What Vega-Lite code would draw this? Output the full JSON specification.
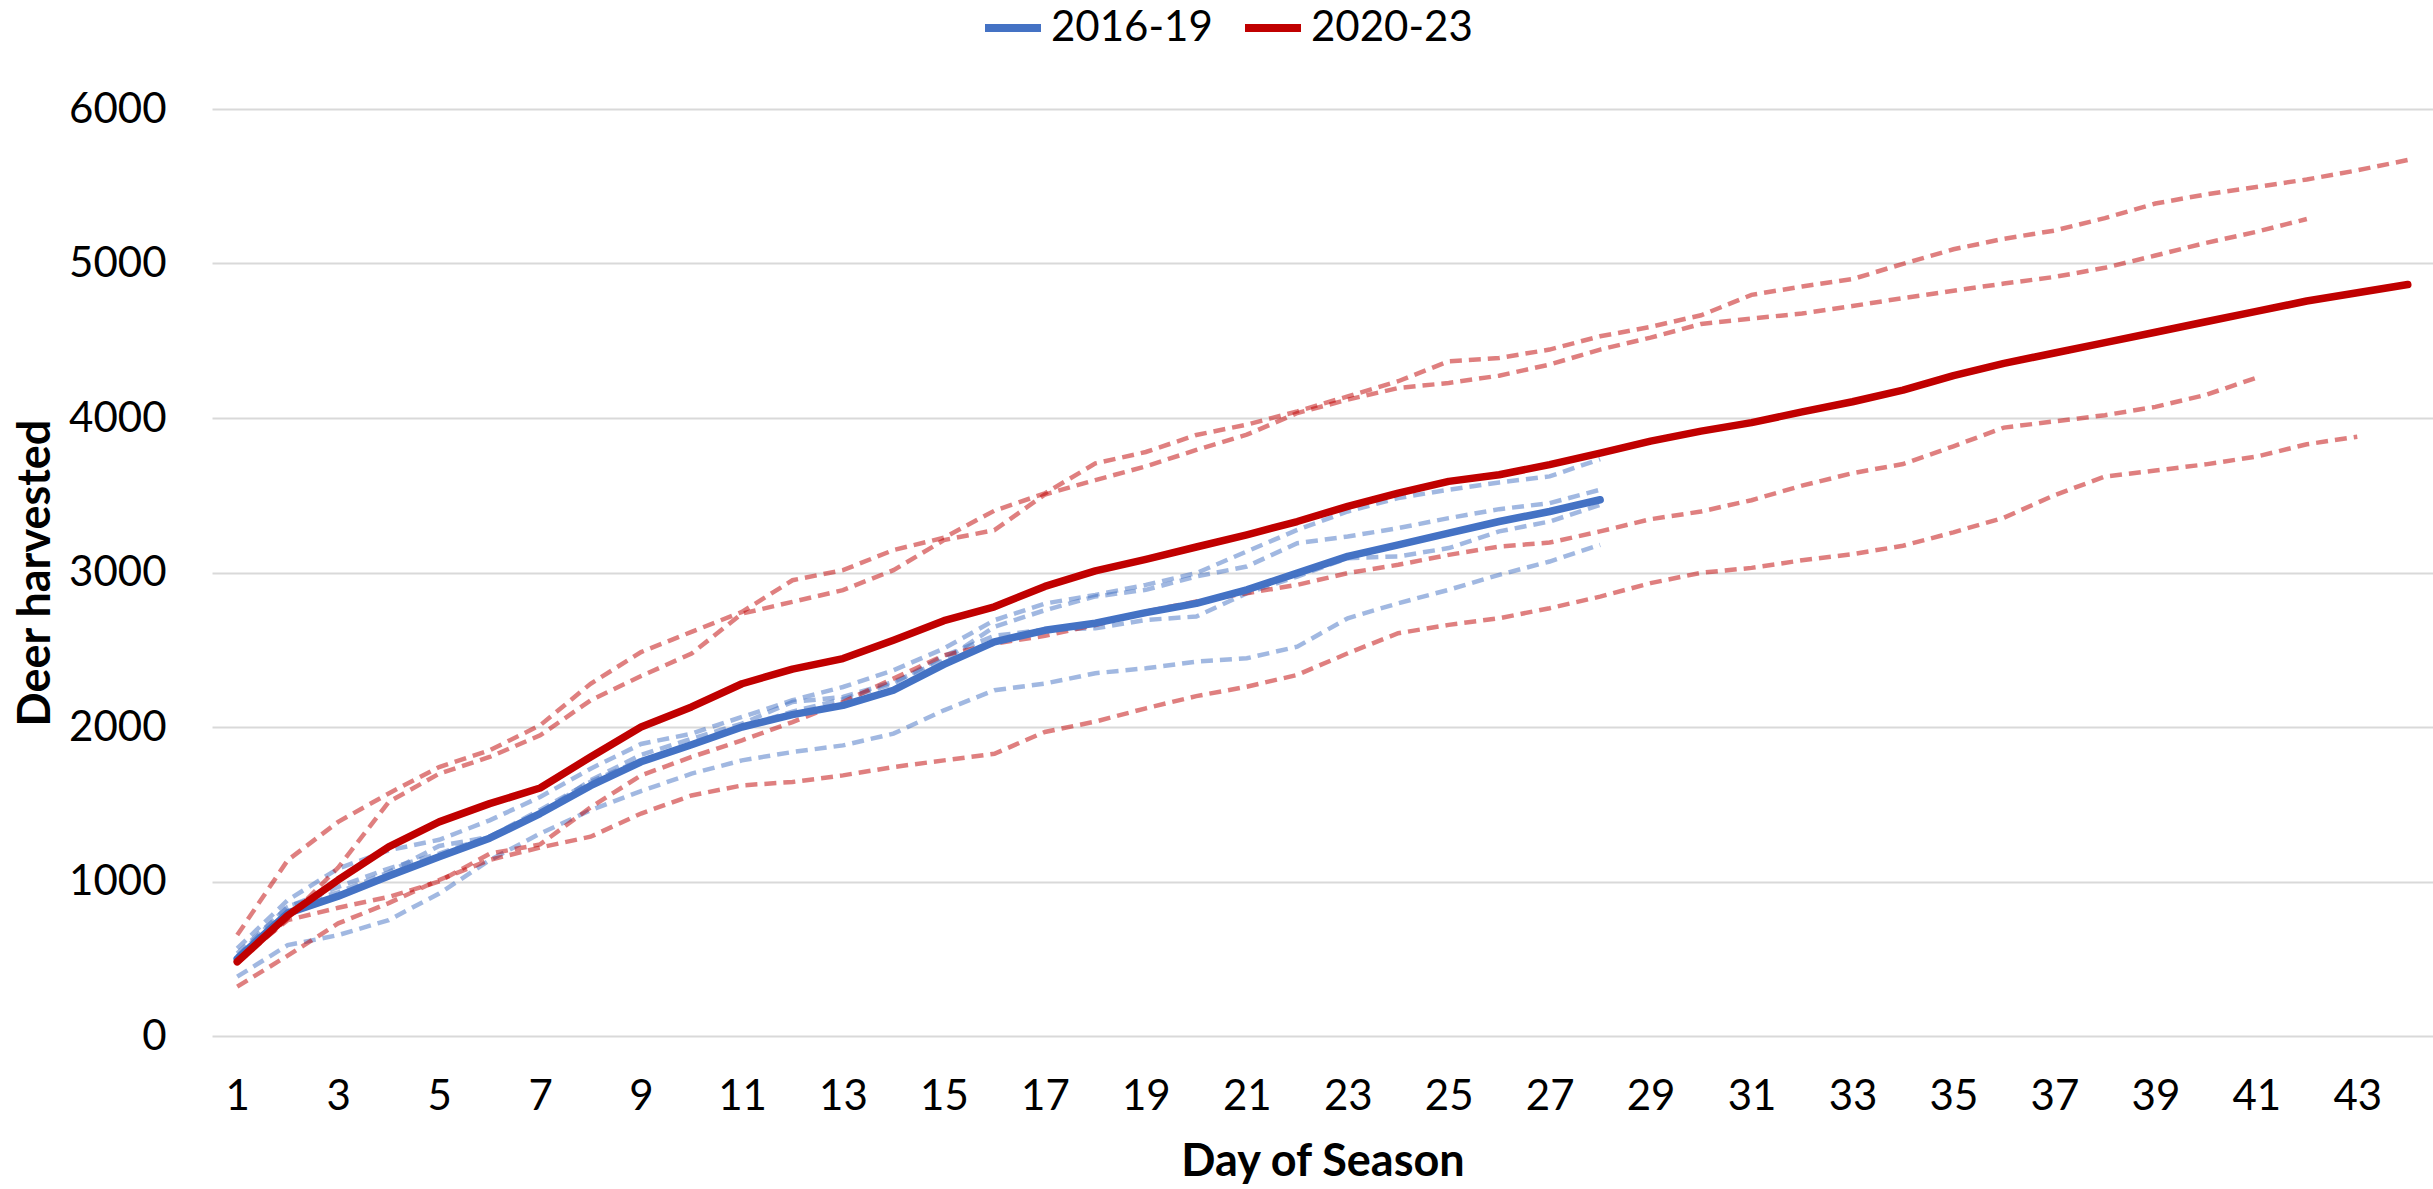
{
"$schema":"https://vega.github.io/schema/vega-lite/v6.json",
"width":2221,"height":927,
"autosize":{"type":"none"},
"padding":{"left":212,"top":109,"right":0,"bottom":153},
"background":"white",
"config":{"view":{"stroke":null},"font":"Lato"},
"datasets":{"d":[
{"day":1,"year":"2016","group":"2016-19","deer":567},{"day":2,"year":"2016","group":"2016-19","deer":879},{"day":3,"year":"2016","group":"2016-19","deer":1084},{"day":4,"year":"2016","group":"2016-19","deer":1202},{"day":5,"year":"2016","group":"2016-19","deer":1270},{"day":6,"year":"2016","group":"2016-19","deer":1396},{"day":7,"year":"2016","group":"2016-19","deer":1547},{"day":8,"year":"2016","group":"2016-19","deer":1730},{"day":9,"year":"2016","group":"2016-19","deer":1890},{"day":10,"year":"2016","group":"2016-19","deer":1957},{"day":11,"year":"2016","group":"2016-19","deer":2065},{"day":12,"year":"2016","group":"2016-19","deer":2173},{"day":13,"year":"2016","group":"2016-19","deer":2259},{"day":14,"year":"2016","group":"2016-19","deer":2367},{"day":15,"year":"2016","group":"2016-19","deer":2508},{"day":16,"year":"2016","group":"2016-19","deer":2691},{"day":17,"year":"2016","group":"2016-19","deer":2799},{"day":18,"year":"2016","group":"2016-19","deer":2855},{"day":19,"year":"2016","group":"2016-19","deer":2920},{"day":20,"year":"2016","group":"2016-19","deer":2996},{"day":21,"year":"2016","group":"2016-19","deer":3136},{"day":22,"year":"2016","group":"2016-19","deer":3276},{"day":23,"year":"2016","group":"2016-19","deer":3395},{"day":24,"year":"2016","group":"2016-19","deer":3482},{"day":25,"year":"2016","group":"2016-19","deer":3536},{"day":26,"year":"2016","group":"2016-19","deer":3583},{"day":27,"year":"2016","group":"2016-19","deer":3622},{"day":28,"year":"2016","group":"2016-19","deer":3734},
{"day":1,"year":"2017","group":"2016-19","deer":534},{"day":2,"year":"2017","group":"2016-19","deer":836},{"day":3,"year":"2017","group":"2016-19","deer":965},{"day":4,"year":"2017","group":"2016-19","deer":1084},{"day":5,"year":"2017","group":"2016-19","deer":1181},{"day":6,"year":"2017","group":"2016-19","deer":1289},{"day":7,"year":"2017","group":"2016-19","deer":1440},{"day":8,"year":"2017","group":"2016-19","deer":1655},{"day":9,"year":"2017","group":"2016-19","deer":1820},{"day":10,"year":"2017","group":"2016-19","deer":1924},{"day":11,"year":"2017","group":"2016-19","deer":2022},{"day":12,"year":"2017","group":"2016-19","deer":2162},{"day":13,"year":"2017","group":"2016-19","deer":2194},{"day":14,"year":"2017","group":"2016-19","deer":2292},{"day":15,"year":"2017","group":"2016-19","deer":2432},{"day":16,"year":"2017","group":"2016-19","deer":2648},{"day":17,"year":"2017","group":"2016-19","deer":2756},{"day":18,"year":"2017","group":"2016-19","deer":2845},{"day":19,"year":"2017","group":"2016-19","deer":2888},{"day":20,"year":"2017","group":"2016-19","deer":2974},{"day":21,"year":"2017","group":"2016-19","deer":3039},{"day":22,"year":"2017","group":"2016-19","deer":3190},{"day":23,"year":"2017","group":"2016-19","deer":3233},{"day":24,"year":"2017","group":"2016-19","deer":3287},{"day":25,"year":"2017","group":"2016-19","deer":3352},{"day":26,"year":"2017","group":"2016-19","deer":3410},{"day":27,"year":"2017","group":"2016-19","deer":3449},{"day":28,"year":"2017","group":"2016-19","deer":3536},
{"day":1,"year":"2018","group":"2016-19","deer":515},{"day":2,"year":"2018","group":"2016-19","deer":840},{"day":3,"year":"2018","group":"2016-19","deer":930},{"day":4,"year":"2018","group":"2016-19","deer":1060},{"day":5,"year":"2018","group":"2016-19","deer":1230},{"day":6,"year":"2018","group":"2016-19","deer":1289},{"day":7,"year":"2018","group":"2016-19","deer":1463},{"day":8,"year":"2018","group":"2016-19","deer":1646},{"day":9,"year":"2018","group":"2016-19","deer":1785},{"day":10,"year":"2018","group":"2016-19","deer":1890},{"day":11,"year":"2018","group":"2016-19","deer":2000},{"day":12,"year":"2018","group":"2016-19","deer":2100},{"day":13,"year":"2018","group":"2016-19","deer":2180},{"day":14,"year":"2018","group":"2016-19","deer":2280},{"day":15,"year":"2018","group":"2016-19","deer":2460},{"day":16,"year":"2018","group":"2016-19","deer":2590},{"day":17,"year":"2018","group":"2016-19","deer":2630},{"day":18,"year":"2018","group":"2016-19","deer":2639},{"day":19,"year":"2018","group":"2016-19","deer":2693},{"day":20,"year":"2018","group":"2016-19","deer":2715},{"day":21,"year":"2018","group":"2016-19","deer":2866},{"day":22,"year":"2018","group":"2016-19","deer":2974},{"day":23,"year":"2018","group":"2016-19","deer":3093},{"day":24,"year":"2018","group":"2016-19","deer":3104},{"day":25,"year":"2018","group":"2016-19","deer":3158},{"day":26,"year":"2018","group":"2016-19","deer":3266},{"day":27,"year":"2018","group":"2016-19","deer":3330},{"day":28,"year":"2018","group":"2016-19","deer":3438},
{"day":1,"year":"2019","group":"2016-19","deer":384},{"day":2,"year":"2019","group":"2016-19","deer":588},{"day":3,"year":"2019","group":"2016-19","deer":653},{"day":4,"year":"2019","group":"2016-19","deer":750},{"day":5,"year":"2019","group":"2016-19","deer":922},{"day":6,"year":"2019","group":"2016-19","deer":1138},{"day":7,"year":"2019","group":"2016-19","deer":1310},{"day":8,"year":"2019","group":"2016-19","deer":1461},{"day":9,"year":"2019","group":"2016-19","deer":1585},{"day":10,"year":"2019","group":"2016-19","deer":1698},{"day":11,"year":"2019","group":"2016-19","deer":1784},{"day":12,"year":"2019","group":"2016-19","deer":1838},{"day":13,"year":"2019","group":"2016-19","deer":1881},{"day":14,"year":"2019","group":"2016-19","deer":1957},{"day":15,"year":"2019","group":"2016-19","deer":2108},{"day":16,"year":"2019","group":"2016-19","deer":2238},{"day":17,"year":"2019","group":"2016-19","deer":2281},{"day":18,"year":"2019","group":"2016-19","deer":2348},{"day":19,"year":"2019","group":"2016-19","deer":2380},{"day":20,"year":"2019","group":"2016-19","deer":2423},{"day":21,"year":"2019","group":"2016-19","deer":2445},{"day":22,"year":"2019","group":"2016-19","deer":2520},{"day":23,"year":"2019","group":"2016-19","deer":2704},{"day":24,"year":"2019","group":"2016-19","deer":2801},{"day":25,"year":"2019","group":"2016-19","deer":2888},{"day":26,"year":"2019","group":"2016-19","deer":2985},{"day":27,"year":"2019","group":"2016-19","deer":3071},{"day":28,"year":"2019","group":"2016-19","deer":3179},
{"day":1,"year":"2020","group":"2020-23","deer":653},{"day":2,"year":"2020","group":"2020-23","deer":1138},{"day":3,"year":"2020","group":"2020-23","deer":1386},{"day":4,"year":"2020","group":"2020-23","deer":1570},{"day":5,"year":"2020","group":"2020-23","deer":1741},{"day":6,"year":"2020","group":"2020-23","deer":1849},{"day":7,"year":"2020","group":"2020-23","deer":2011},{"day":8,"year":"2020","group":"2020-23","deer":2280},{"day":9,"year":"2020","group":"2020-23","deer":2485},{"day":10,"year":"2020","group":"2020-23","deer":2616},{"day":11,"year":"2020","group":"2020-23","deer":2745},{"day":12,"year":"2020","group":"2020-23","deer":2950},{"day":13,"year":"2020","group":"2020-23","deer":3015},{"day":14,"year":"2020","group":"2020-23","deer":3145},{"day":15,"year":"2020","group":"2020-23","deer":3225},{"day":16,"year":"2020","group":"2020-23","deer":3400},{"day":17,"year":"2020","group":"2020-23","deer":3512},{"day":18,"year":"2020","group":"2020-23","deer":3706},{"day":19,"year":"2020","group":"2020-23","deer":3780},{"day":20,"year":"2020","group":"2020-23","deer":3890},{"day":21,"year":"2020","group":"2020-23","deer":3957},{"day":22,"year":"2020","group":"2020-23","deer":4043},{"day":23,"year":"2020","group":"2020-23","deer":4140},{"day":24,"year":"2020","group":"2020-23","deer":4238},{"day":25,"year":"2020","group":"2020-23","deer":4367},{"day":26,"year":"2020","group":"2020-23","deer":4389},{"day":27,"year":"2020","group":"2020-23","deer":4443},{"day":28,"year":"2020","group":"2020-23","deer":4529},{"day":29,"year":"2020","group":"2020-23","deer":4590},{"day":30,"year":"2020","group":"2020-23","deer":4665},{"day":31,"year":"2020","group":"2020-23","deer":4797},{"day":32,"year":"2020","group":"2020-23","deer":4851},{"day":33,"year":"2020","group":"2020-23","deer":4899},{"day":34,"year":"2020","group":"2020-23","deer":4998},{"day":35,"year":"2020","group":"2020-23","deer":5092},{"day":36,"year":"2020","group":"2020-23","deer":5160},{"day":37,"year":"2020","group":"2020-23","deer":5213},{"day":38,"year":"2020","group":"2020-23","deer":5294},{"day":39,"year":"2020","group":"2020-23","deer":5388},{"day":40,"year":"2020","group":"2020-23","deer":5447},{"day":41,"year":"2020","group":"2020-23","deer":5495},{"day":42,"year":"2020","group":"2020-23","deer":5544},{"day":43,"year":"2020","group":"2020-23","deer":5603},{"day":44,"year":"2020","group":"2020-23","deer":5670},
{"day":1,"year":"2021","group":"2020-23","deer":470},{"day":2,"year":"2021","group":"2020-23","deer":760},{"day":3,"year":"2021","group":"2020-23","deer":1090},{"day":4,"year":"2021","group":"2020-23","deer":1515},{"day":5,"year":"2021","group":"2020-23","deer":1698},{"day":6,"year":"2021","group":"2020-23","deer":1806},{"day":7,"year":"2021","group":"2020-23","deer":1946},{"day":8,"year":"2021","group":"2020-23","deer":2172},{"day":9,"year":"2021","group":"2020-23","deer":2330},{"day":10,"year":"2021","group":"2020-23","deer":2475},{"day":11,"year":"2021","group":"2020-23","deer":2734},{"day":12,"year":"2021","group":"2020-23","deer":2810},{"day":13,"year":"2021","group":"2020-23","deer":2886},{"day":14,"year":"2021","group":"2020-23","deer":3015},{"day":15,"year":"2021","group":"2020-23","deer":3210},{"day":16,"year":"2021","group":"2020-23","deer":3274},{"day":17,"year":"2021","group":"2020-23","deer":3505},{"day":18,"year":"2021","group":"2020-23","deer":3598},{"day":19,"year":"2021","group":"2020-23","deer":3687},{"day":20,"year":"2021","group":"2020-23","deer":3793},{"day":21,"year":"2021","group":"2020-23","deer":3892},{"day":22,"year":"2021","group":"2020-23","deer":4032},{"day":23,"year":"2021","group":"2020-23","deer":4119},{"day":24,"year":"2021","group":"2020-23","deer":4194},{"day":25,"year":"2021","group":"2020-23","deer":4227},{"day":26,"year":"2021","group":"2020-23","deer":4274},{"day":27,"year":"2021","group":"2020-23","deer":4346},{"day":28,"year":"2021","group":"2020-23","deer":4443},{"day":29,"year":"2021","group":"2020-23","deer":4520},{"day":30,"year":"2021","group":"2020-23","deer":4609},{"day":31,"year":"2021","group":"2020-23","deer":4644},{"day":32,"year":"2021","group":"2020-23","deer":4676},{"day":33,"year":"2021","group":"2020-23","deer":4725},{"day":34,"year":"2021","group":"2020-23","deer":4776},{"day":35,"year":"2021","group":"2020-23","deer":4824},{"day":36,"year":"2021","group":"2020-23","deer":4870},{"day":37,"year":"2021","group":"2020-23","deer":4913},{"day":38,"year":"2021","group":"2020-23","deer":4972},{"day":39,"year":"2021","group":"2020-23","deer":5052},{"day":40,"year":"2021","group":"2020-23","deer":5133},{"day":41,"year":"2021","group":"2020-23","deer":5205},{"day":42,"year":"2021","group":"2020-23","deer":5288},
{"day":1,"year":"2022","group":"2020-23","deer":490},{"day":2,"year":"2022","group":"2020-23","deer":750},{"day":3,"year":"2022","group":"2020-23","deer":830},{"day":4,"year":"2022","group":"2020-23","deer":900},{"day":5,"year":"2022","group":"2020-23","deer":1000},{"day":6,"year":"2022","group":"2020-23","deer":1180},{"day":7,"year":"2022","group":"2020-23","deer":1240},{"day":8,"year":"2022","group":"2020-23","deer":1480},{"day":9,"year":"2022","group":"2020-23","deer":1687},{"day":10,"year":"2022","group":"2020-23","deer":1806},{"day":11,"year":"2022","group":"2020-23","deer":1914},{"day":12,"year":"2022","group":"2020-23","deer":2032},{"day":13,"year":"2022","group":"2020-23","deer":2162},{"day":14,"year":"2022","group":"2020-23","deer":2313},{"day":15,"year":"2022","group":"2020-23","deer":2464},{"day":16,"year":"2022","group":"2020-23","deer":2540},{"day":17,"year":"2022","group":"2020-23","deer":2590},{"day":18,"year":"2022","group":"2020-23","deer":2660},{"day":19,"year":"2022","group":"2020-23","deer":2747},{"day":20,"year":"2022","group":"2020-23","deer":2812},{"day":21,"year":"2022","group":"2020-23","deer":2866},{"day":22,"year":"2022","group":"2020-23","deer":2920},{"day":23,"year":"2022","group":"2020-23","deer":2996},{"day":24,"year":"2022","group":"2020-23","deer":3050},{"day":25,"year":"2022","group":"2020-23","deer":3114},{"day":26,"year":"2022","group":"2020-23","deer":3168},{"day":27,"year":"2022","group":"2020-23","deer":3194},{"day":28,"year":"2022","group":"2020-23","deer":3266},{"day":29,"year":"2022","group":"2020-23","deer":3345},{"day":30,"year":"2022","group":"2020-23","deer":3395},{"day":31,"year":"2022","group":"2020-23","deer":3468},{"day":32,"year":"2022","group":"2020-23","deer":3562},{"day":33,"year":"2022","group":"2020-23","deer":3643},{"day":34,"year":"2022","group":"2020-23","deer":3702},{"day":35,"year":"2022","group":"2020-23","deer":3817},{"day":36,"year":"2022","group":"2020-23","deer":3938},{"day":37,"year":"2022","group":"2020-23","deer":3978},{"day":38,"year":"2022","group":"2020-23","deer":4018},{"day":39,"year":"2022","group":"2020-23","deer":4072},{"day":40,"year":"2022","group":"2020-23","deer":4150},{"day":41,"year":"2022","group":"2020-23","deer":4260},
{"day":1,"year":"2023","group":"2020-23","deer":320},{"day":2,"year":"2023","group":"2020-23","deer":520},{"day":3,"year":"2023","group":"2020-23","deer":729},{"day":4,"year":"2023","group":"2020-23","deer":860},{"day":5,"year":"2023","group":"2020-23","deer":1010},{"day":6,"year":"2023","group":"2020-23","deer":1140},{"day":7,"year":"2023","group":"2020-23","deer":1220},{"day":8,"year":"2023","group":"2020-23","deer":1290},{"day":9,"year":"2023","group":"2020-23","deer":1440},{"day":10,"year":"2023","group":"2020-23","deer":1557},{"day":11,"year":"2023","group":"2020-23","deer":1622},{"day":12,"year":"2023","group":"2020-23","deer":1644},{"day":13,"year":"2023","group":"2020-23","deer":1687},{"day":14,"year":"2023","group":"2020-23","deer":1741},{"day":15,"year":"2023","group":"2020-23","deer":1784},{"day":16,"year":"2023","group":"2020-23","deer":1827},{"day":17,"year":"2023","group":"2020-23","deer":1968},{"day":18,"year":"2023","group":"2020-23","deer":2035},{"day":19,"year":"2023","group":"2020-23","deer":2121},{"day":20,"year":"2023","group":"2020-23","deer":2200},{"day":21,"year":"2023","group":"2020-23","deer":2261},{"day":22,"year":"2023","group":"2020-23","deer":2337},{"day":23,"year":"2023","group":"2020-23","deer":2477},{"day":24,"year":"2023","group":"2020-23","deer":2607},{"day":25,"year":"2023","group":"2020-23","deer":2661},{"day":26,"year":"2023","group":"2020-23","deer":2704},{"day":27,"year":"2023","group":"2020-23","deer":2769},{"day":28,"year":"2023","group":"2020-23","deer":2844},{"day":29,"year":"2023","group":"2020-23","deer":2931},{"day":30,"year":"2023","group":"2020-23","deer":2998},{"day":31,"year":"2023","group":"2020-23","deer":3030},{"day":32,"year":"2023","group":"2020-23","deer":3079},{"day":33,"year":"2023","group":"2020-23","deer":3119},{"day":34,"year":"2023","group":"2020-23","deer":3173},{"day":35,"year":"2023","group":"2020-23","deer":3260},{"day":36,"year":"2023","group":"2020-23","deer":3355},{"day":37,"year":"2023","group":"2020-23","deer":3500},{"day":38,"year":"2023","group":"2020-23","deer":3621},{"day":39,"year":"2023","group":"2020-23","deer":3660},{"day":40,"year":"2023","group":"2020-23","deer":3700},{"day":41,"year":"2023","group":"2020-23","deer":3750},{"day":42,"year":"2023","group":"2020-23","deer":3830},{"day":43,"year":"2023","group":"2020-23","deer":3879},
{"day":1,"year":"mean","group":"2016-19","deer":500},{"day":2,"year":"mean","group":"2016-19","deer":795},{"day":3,"year":"mean","group":"2016-19","deer":905},{"day":4,"year":"mean","group":"2016-19","deer":1035},{"day":5,"year":"mean","group":"2016-19","deer":1160},{"day":6,"year":"mean","group":"2016-19","deer":1280},{"day":7,"year":"mean","group":"2016-19","deer":1440},{"day":8,"year":"mean","group":"2016-19","deer":1620},{"day":9,"year":"mean","group":"2016-19","deer":1775},{"day":10,"year":"mean","group":"2016-19","deer":1885},{"day":11,"year":"mean","group":"2016-19","deer":2000},{"day":12,"year":"mean","group":"2016-19","deer":2080},{"day":13,"year":"mean","group":"2016-19","deer":2140},{"day":14,"year":"mean","group":"2016-19","deer":2238},{"day":15,"year":"mean","group":"2016-19","deer":2405},{"day":16,"year":"mean","group":"2016-19","deer":2551},{"day":17,"year":"mean","group":"2016-19","deer":2626},{"day":18,"year":"mean","group":"2016-19","deer":2672},{"day":19,"year":"mean","group":"2016-19","deer":2740},{"day":20,"year":"mean","group":"2016-19","deer":2800},{"day":21,"year":"mean","group":"2016-19","deer":2888},{"day":22,"year":"mean","group":"2016-19","deer":2996},{"day":23,"year":"mean","group":"2016-19","deer":3104},{"day":24,"year":"mean","group":"2016-19","deer":3179},{"day":25,"year":"mean","group":"2016-19","deer":3255},{"day":26,"year":"mean","group":"2016-19","deer":3330},{"day":27,"year":"mean","group":"2016-19","deer":3395},{"day":28,"year":"mean","group":"2016-19","deer":3471},
{"day":1,"year":"mean","group":"2020-23","deer":480},{"day":2,"year":"mean","group":"2020-23","deer":780},{"day":3,"year":"mean","group":"2020-23","deer":1010},{"day":4,"year":"mean","group":"2020-23","deer":1224},{"day":5,"year":"mean","group":"2020-23","deer":1386},{"day":6,"year":"mean","group":"2020-23","deer":1504},{"day":7,"year":"mean","group":"2020-23","deer":1605},{"day":8,"year":"mean","group":"2020-23","deer":1806},{"day":9,"year":"mean","group":"2020-23","deer":2000},{"day":10,"year":"mean","group":"2020-23","deer":2130},{"day":11,"year":"mean","group":"2020-23","deer":2280},{"day":12,"year":"mean","group":"2020-23","deer":2375},{"day":13,"year":"mean","group":"2020-23","deer":2443},{"day":14,"year":"mean","group":"2020-23","deer":2562},{"day":15,"year":"mean","group":"2020-23","deer":2688},{"day":16,"year":"mean","group":"2020-23","deer":2778},{"day":17,"year":"mean","group":"2020-23","deer":2910},{"day":18,"year":"mean","group":"2020-23","deer":3010},{"day":19,"year":"mean","group":"2020-23","deer":3085},{"day":20,"year":"mean","group":"2020-23","deer":3165},{"day":21,"year":"mean","group":"2020-23","deer":3244},{"day":22,"year":"mean","group":"2020-23","deer":3330},{"day":23,"year":"mean","group":"2020-23","deer":3428},{"day":24,"year":"mean","group":"2020-23","deer":3514},{"day":25,"year":"mean","group":"2020-23","deer":3590},{"day":26,"year":"mean","group":"2020-23","deer":3633},{"day":27,"year":"mean","group":"2020-23","deer":3698},{"day":28,"year":"mean","group":"2020-23","deer":3773},{"day":29,"year":"mean","group":"2020-23","deer":3850},{"day":30,"year":"mean","group":"2020-23","deer":3915},{"day":31,"year":"mean","group":"2020-23","deer":3970},{"day":32,"year":"mean","group":"2020-23","deer":4040},{"day":33,"year":"mean","group":"2020-23","deer":4105},{"day":34,"year":"mean","group":"2020-23","deer":4180},{"day":35,"year":"mean","group":"2020-23","deer":4274},{"day":36,"year":"mean","group":"2020-23","deer":4354},{"day":37,"year":"mean","group":"2020-23","deer":4421},{"day":38,"year":"mean","group":"2020-23","deer":4488},{"day":39,"year":"mean","group":"2020-23","deer":4555},{"day":40,"year":"mean","group":"2020-23","deer":4623},{"day":41,"year":"mean","group":"2020-23","deer":4690},{"day":42,"year":"mean","group":"2020-23","deer":4757},{"day":43,"year":"mean","group":"2020-23","deer":4811},{"day":44,"year":"mean","group":"2020-23","deer":4864}
]},
"data":{"name":"d"},
"encoding":{
"x":{"field":"day","type":"quantitative","scale":{"domain":[0.5,44.5],"nice":false,"zero":false},
"axis":{"values":[1,3,5,7,9,11,13,15,17,19,21,23,25,27,29,31,33,35,37,39,41,43],"format":"d","title":"Day of Season","grid":false,"ticks":false,"domain":false,"labelFont":"Lato","labelFontSize":42,"labelColor":"#000000","labelPadding":40,"labelFlush":false,"labelOverlap":false,"titleFont":"Lato","titleFontSize":45,"titleFontWeight":"bold","titleColor":"#000000","titlePadding":22}},
"y":{"field":"deer","type":"quantitative","scale":{"domain":[0,6000],"nice":false},
"axis":{"values":[0,1000,2000,3000,4000,5000,6000],"format":"d","title":"Deer harvested","grid":true,"gridColor":"#D9D9D9","gridWidth":2,"ticks":false,"domain":false,"labelFont":"Lato","labelFontSize":42,"labelColor":"#000000","labelPadding":46,"labelFlush":false,"titleFont":"Lato","titleFontSize":45,"titleFontWeight":"bold","titleColor":"#000000","titleX":-177,"titleBaseline":"middle"}},
"color":{"field":"group","type":"nominal","scale":{"domain":["2016-19","2020-23"],"range":["#4472C4","#C00000"]},
"legend":{"orient":"none","legendX":769,"legendY":-113,"direction":"horizontal","title":null,"symbolType":"stroke","symbolStrokeWidth":8,"symbolSize":3136,"symbolDash":[],"symbolOpacity":1,"labelFont":"Lato","labelFontSize":42,"labelColor":"#000000","labelOffset":6,"labelLimit":0,"columnPadding":16}}
},
"layer":[
{"transform":[{"filter":"datum.year != 'mean'"}],"mark":{"type":"line","strokeDash":[12,7],"strokeWidth":4.5,"opacity":0.5},"encoding":{"detail":{"field":"year","type":"nominal"}}},
{"transform":[{"filter":"datum.year == 'mean'"}],"mark":{"type":"line","strokeWidth":7.5,"strokeCap":"round","strokeJoin":"round"}}
]
}
